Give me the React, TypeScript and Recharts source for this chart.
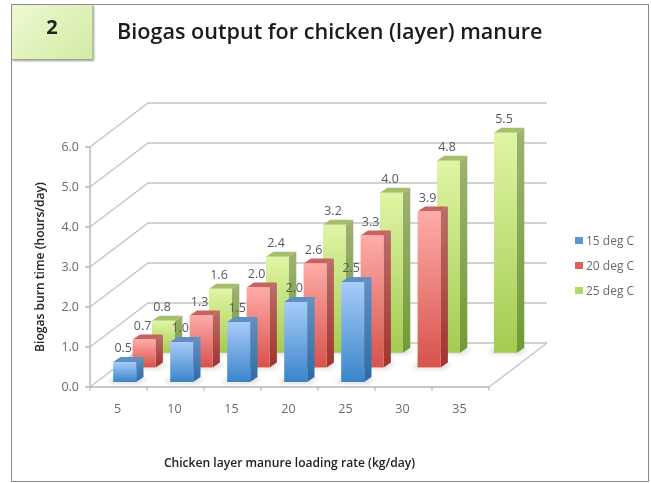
import React from 'react';
import { BarChart, Bar, XAxis, YAxis, CartesianGrid, Legend, LabelList } from 'recharts';

const rates = ['5', '10', '15', '20', '25', '30', '35'];
const deg15 = [0.5, 1.0, 1.5, 2.0, 2.5, null, null];
const deg20 = [0.7, 1.3, 2.0, 2.6, 3.3, 3.9, null];
const deg25 = [0.8, 1.6, 2.4, 3.2, 4.0, 4.8, 5.5];
const yTicks = [0, 1, 2, 3, 4, 5, 6];

const data = rates.map((rate, i) => ({ rate, deg15: deg15[i], deg20: deg20[i], deg25: deg25[i] }));

// fake 3D: how far the back wall and each row of bars sit from the front plane
const WALL_DX = 58;
const WALL_DY = -44;
const ROW_START = { dx: 6.2, dy: -5 };
const ROW_STEP = { dx: 19.4, dy: -14.6 };
const BAR_DEPTH = { dx: 7.3, dy: -5 };

const BLUE = { id: 'blue', top: '#5f8fc4', light: '#a8ccf8', dark: '#3a84ca', sideLight: '#6291c4', sideDark: '#2a6ca6' };
const RED = { id: 'red', top: '#c9625e', light: '#ffaca8', dark: '#d8524c', sideLight: '#bb6e6b', sideDark: '#a2322e' };
const GREEN = { id: 'green', top: '#a6bd6e', light: '#e0f5a4', dark: '#a4cb52', sideLight: '#9eb274', sideDark: '#709b36' };

const gridColor = '#c4c4c4';
const tickColor = '#6a6a6a';
const font = "'Open Sans', sans-serif";

const GradientDefs = () => (
  <defs>
    {[BLUE, RED, GREEN].map((c) => (
      <React.Fragment key={c.id}>
        <linearGradient id={`${c.id}-front`} x1="0" y1="0" x2="0" y2="1">
          <stop offset="0%" stopColor={c.light} />
          <stop offset="100%" stopColor={c.dark} />
        </linearGradient>
        <linearGradient id={`${c.id}-side`} x1="0" y1="0" x2="0" y2="1">
          <stop offset="0%" stopColor={c.sideLight} />
          <stop offset="100%" stopColor={c.sideDark} />
        </linearGradient>
      </React.Fragment>
    ))}
    <filter id="floor-blur" x="-50%" y="-50%" width="200%" height="200%">
      <feGaussianBlur stdDeviation="2" />
    </filter>
  </defs>
);

const pts = (list: number[][]) => list.map((p) => p.join(',')).join(' ');

const prism = (row: number, c: typeof BLUE) => (props: any) => {
  const { x, y, width, height } = props;
  if (!height || height <= 0) return <g />;
  const x0 = x + ROW_START.dx + ROW_STEP.dx * row;
  const y0 = y + ROW_START.dy + ROW_STEP.dy * row;
  const x1 = x0 + width;
  const y1 = y0 + height;
  const { dx, dy } = BAR_DEPTH;
  return (
    <g>
      <polygon
        points={pts([[x0 - 6, y1 + 1], [x1 + 3, y1 + 2], [x1 + dx + 5, y1 + dy + 1], [x0, y1 + dy]])}
        fill="#000"
        opacity={0.13}
        filter="url(#floor-blur)"
      />
      <polygon points={pts([[x1, y0], [x1 + dx, y0 + dy], [x1 + dx, y1 + dy], [x1, y1]])} fill={`url(#${c.id}-side)`} />
      <polygon points={pts([[x0, y0], [x0 + dx, y0 + dy], [x1 + dx, y0 + dy], [x1, y0]])} fill={c.top} />
      <rect x={x0} y={y0} width={width} height={height} fill={`url(#${c.id}-front)`} />
    </g>
  );
};

const valueLabel = (row: number) => (props: any) => {
  const { value, index } = props;
  if (value == null) return null;
  const box = props.viewBox ?? props;
  const cx = box.x + box.width / 2 + ROW_START.dx + ROW_STEP.dx * row - 1.5;
  const cy = box.y + ROW_START.dy + ROW_STEP.dy * row - 14;
  return (
    <text key={index} x={cx} y={cy} dy="0.35em" textAnchor="middle" fontSize={12.5} fill="#5a5a5a" fontFamily={font}>
      {Number(value).toFixed(1)}
    </text>
  );
};

// gridlines run from the front axis back to the wall and then along it
const wallLine = (props: any) => {
  const { x1, x2, y1, index } = props;
  const isFloor = Number(y1) > 380;
  return (
    <g key={index}>
      <polyline
        points={pts([[x1, y1], [x1 + WALL_DX, y1 + WALL_DY], [x2 + WALL_DX, y1 + WALL_DY]])}
        fill="none"
        stroke={gridColor}
        strokeWidth={1.4}
      />
      {isFloor && (
        <line x1={x2} y1={y1} x2={x2 + WALL_DX} y2={y1 + WALL_DY} stroke={gridColor} strokeWidth={1.4} />
      )}
    </g>
  );
};

const BoundaryTick = (props: any) => {
  const { x, y, payload, index, visibleTicksCount } = props;
  const half = payload.offset ?? 28.5;
  const axisY = y - 8;
  return (
    <g>
      <line x1={x - half} y1={axisY} x2={x - half} y2={axisY + 4} stroke="#aaa" />
      {index === visibleTicksCount - 1 && <line x1={x + half} y1={axisY} x2={x + half} y2={axisY + 4} stroke="#aaa" />}
      <text x={x - 1} y={y + 14} dy="0.35em" textAnchor="middle" fontSize={12.5} fill={tickColor} fontFamily={font}>
        {payload.value}
      </text>
    </g>
  );
};

const LegendList = ({ payload }: any) => (
  <div>
    {(payload ?? []).map((item: any) => (
      <div key={item.value} style={{ display: 'flex', alignItems: 'center', height: 25, fontSize: 12, color: tickColor, fontFamily: font, whiteSpace: 'nowrap' }}>
        <span style={{ width: 8, height: 7, marginRight: 3, background: item.payload.stroke }} />
        {item.value}
      </div>
    ))}
  </div>
);

export default function App() {
  return (
    <div style={{ position: 'absolute', left: 0, top: 0, width: 651, height: 483, background: '#fff', overflow: 'hidden', filter: 'blur(0.4px)' }}>
      <div style={{ position: 'absolute', left: 11, top: 4, width: 636, height: 476, border: '1.5px solid #8a8a8a' }} />
      <div
        style={{
          position: 'absolute', left: 12, top: 5, width: 80, height: 54,
          background: 'linear-gradient(135deg, #eef9d2, #d2eba4)',
          borderRight: '1px solid #b5c98a', borderBottom: '1.5px solid #9aae74',
          boxShadow: '1px 1px 2px #999', textAlign: 'center', lineHeight: '44px',
          fontSize: 20, fontWeight: 700, color: '#222', fontFamily: font,
        }}
      >
        2
      </div>
      <div style={{ position: 'absolute', left: 117, top: 16, fontSize: 21.6, fontWeight: 600, color: '#1c1c1c', fontFamily: font, whiteSpace: 'nowrap' }}>
        Biogas output for chicken (layer) manure
      </div>
      <BarChart
        width={651}
        height={483}
        data={data}
        barSize={23}
        barGap={-23}
        margin={{ top: 147, right: 162, bottom: 66, left: 50 }}
        style={{ position: 'absolute', left: 0, top: 0 }}
      >
        <GradientDefs />
        <CartesianGrid vertical={false} horizontal={wallLine} />
        <XAxis
          dataKey="rate"
          height={30}
          interval={0}
          stroke="#b5b5b5"
          strokeWidth={1.4}
          tickLine={false}
          tick={<BoundaryTick />}
          label={{ value: 'Chicken layer manure loading rate (kg/day)', position: 'bottom', offset: 41, fontSize: 12.1, fontWeight: 600, fill: '#222', fontFamily: font }}
        />
        <YAxis
          width={40}
          domain={[0, 6]}
          ticks={yTicks}
          interval={0}
          stroke="#b5b5b5"
          strokeWidth={1.4}
          tickSize={5}
          tickMargin={6}
          tickFormatter={(v: number) => v.toFixed(1)}
          tick={{ fontSize: 12.5, fill: tickColor, fontFamily: font }}
          label={{ value: 'Biogas burn time (hours/day)', angle: -90, position: 'insideLeft', offset: -10, style: { textAnchor: 'middle' }, fontSize: 12.1, fontWeight: 600, fill: '#222', fontFamily: font }}
        />
        <Legend
          layout="vertical"
          align="center"
          verticalAlign="middle"
          content={<LegendList />}
          wrapperStyle={{ left: 575, top: 228, width: 70 }}
        />
        <Bar dataKey="deg25" name="25 deg C" stroke="#b4d868" strokeWidth={0} shape={prism(2, GREEN)} isAnimationActive={false}>
          <LabelList dataKey="deg25" content={valueLabel(2)} />
        </Bar>
        <Bar dataKey="deg20" name="20 deg C" stroke="#d9605c" strokeWidth={0} shape={prism(1, RED)} isAnimationActive={false}>
          <LabelList dataKey="deg20" content={valueLabel(1)} />
        </Bar>
        <Bar dataKey="deg15" name="15 deg C" stroke="#5b97d8" strokeWidth={0} shape={prism(0, BLUE)} isAnimationActive={false}>
          <LabelList dataKey="deg15" content={valueLabel(0)} />
        </Bar>
      </BarChart>
    </div>
  );
}
